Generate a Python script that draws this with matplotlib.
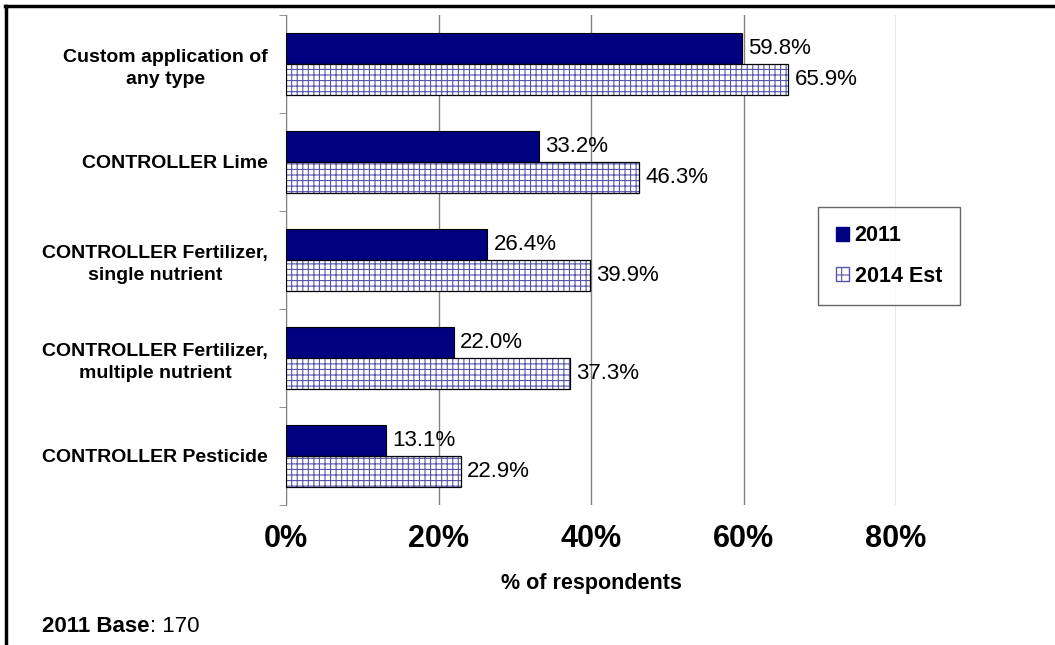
import matplotlib
matplotlib.use("Agg")
import matplotlib.pyplot as plt
import numpy as np
from matplotlib.patches import Patch
from matplotlib.lines import Line2D

categories = ["Custom application of\nany type", "CONTROLLER Lime",
              "CONTROLLER Fertilizer,\nsingle nutrient",
              "CONTROLLER Fertilizer,\nmultiple nutrient", "CONTROLLER Pesticide"]
v2011 = [59.8, 33.2, 26.4, 22.0, 13.1]
v2014 = [65.9, 46.3, 39.9, 37.3, 22.9]
series_names = ["2011", "2014 Est"]
xticks = [0, 20, 40, 60, 80]

plt.rcParams['font.family'] = ['Liberation Sans', 'DejaVu Sans']
plt.rcParams['hatch.linewidth'] = 0.8

W, H = 1055, 645
fig = plt.figure(figsize=(W/100, H/100), dpi=100)
ax = fig.add_axes([286/W, 1-505/H, (896-286)/W, 490/H])

n = len(categories)
y = np.arange(n)
h = 0.32
navy = '#000080'
hatchcol = '#5555aa'
ax.barh(y - h/2, v2011, height=h, color=navy, edgecolor='black', linewidth=0.8, zorder=3)
ax.barh(y + h/2, v2014, height=h, color='white', edgecolor=hatchcol, linewidth=0, hatch='+++', zorder=3)
ax.barh(y + h/2, v2014, height=h, fill=False, edgecolor='black', linewidth=0.9, zorder=4)

for i in range(n):
    ax.text(v2011[i] + 0.8, y[i] - h/2, f"{v2011[i]:.1f}%", va='center', ha='left', fontsize=16)
    ax.text(v2014[i] + 0.8, y[i] + h/2, f"{v2014[i]:.1f}%", va='center', ha='left', fontsize=16)

ax.set_ylim(n - 0.5, -0.5)
ax.set_xlim(0, 80)
ax.set_xticks(xticks)
ax.set_xticklabels([f"{t}%" for t in xticks], fontsize=22, fontweight='bold')
ax.set_yticks(y)
ax.set_yticklabels(categories, fontsize=14, fontweight='bold')
ax.set_yticks(np.arange(n + 1) - 0.5, minor=True)
ax.tick_params(axis='y', which='major', length=0, pad=13)
ax.tick_params(axis='y', which='minor', length=5, color='#808080', direction='out')
ax.tick_params(axis='x', length=0, pad=14)
for lbl in ax.get_yticklabels():
    lbl.set_multialignment('center')
    lbl.set_linespacing(1.35)
ax.grid(axis='x', color='#808080', linewidth=1, zorder=0)
for s in ['top', 'right', 'bottom']:
    ax.spines[s].set_visible(False)
ax.spines['left'].set_color('#808080')
ax.set_xlabel("% of respondents", fontsize=15.5, fontweight='bold', labelpad=13)

handles = [Patch(facecolor=navy, edgecolor=navy, label=series_names[0]),
           Patch(facecolor='white', edgecolor=hatchcol, hatch='+', linewidth=1, label=series_names[1])]
leg = ax.legend(handles=handles, loc='upper left', bbox_to_anchor=((818-286)/610, (505-207)/490),
                prop={'size': 15.5, 'weight': 'bold'}, frameon=True, fancybox=False,
                edgecolor='#404040', handlelength=0.6, handleheight=0.6, handletextpad=0.25,
                borderpad=0.85, labelspacing=0.9, borderaxespad=0)
leg.get_frame().set_linewidth(1)

t1 = fig.text(42/W, 1-626/H, "2011 Base", fontsize=16, fontweight='bold', va='center')
fig.canvas.draw()
bb = t1.get_window_extent()
fig.text(bb.x1/W, 1-626/H, ": 170", fontsize=16, va='center')

fig.add_artist(Line2D([5/W, 1], [1-6/H, 1-6/H], transform=fig.transFigure, color='black', linewidth=2.5))
fig.add_artist(Line2D([6/W, 6/W], [0, 1-6/H], transform=fig.transFigure, color='black', linewidth=2.5))

fig.savefig("out.png", dpi=100)
